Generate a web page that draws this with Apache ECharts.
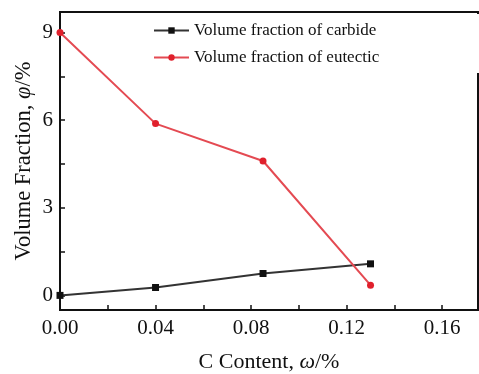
<!DOCTYPE html>
<html><head><meta charset="utf-8">
<script src="https://cdn.jsdelivr.net/npm/echarts@6/dist/echarts.min.js"></script>
<style>html,body{margin:0;padding:0;background:#fff}#c{width:479px;height:374px}</style>
</head><body><div id="c"></div>
<script>
const carbonContent = [0.00, 0.04, 0.085, 0.13];
const carbideFraction = [0.0, 0.27, 0.75, 1.08];
const eutecticFraction = [9.0, 5.88, 4.6, 0.35];
const xTickLabels = [0.00, 0.04, 0.08, 0.12, 0.16];
const xTicks = [0.02, 0.04, 0.06, 0.08, 0.10, 0.12, 0.14, 0.16];
const yTickLabels = [0, 3, 6, 9];
const yTicks = [0, 1.5, 3, 4.5, 6, 7.5, 9];
const seriesNames = ['Volume fraction of carbide', 'Volume fraction of eutectic'];

const F = 'Liberation Serif';
const chart = echarts.init(document.getElementById('c'));
chart.setOption({
  animation: false,
  backgroundColor: '#fff',
  grid: {left: 60, right: 1, top: 12, bottom: 64, containLabel: false, outerBoundsMode: 'none', show: true, borderColor: '#111', borderWidth: 2, backgroundColor: 'transparent'},
  graphic: [{type: 'rect', shape: {x: 146, y: 14, width: 340, height: 59}, style: {fill: '#fff'}, z: 3}],
  legend: {
    left: 153, top: 22, orient: 'vertical', itemWidth: 35, itemHeight: 8, itemGap: 10,
    padding: 0,
    textStyle: {fontFamily: F, fontSize: 17, color: '#111'},
    data: seriesNames, z: 5
  },
  xAxis: {
    type: 'value', min: 0, max: 0.175,
    axisLine: {show: true, onZero: false, lineStyle: {color: '#111', width: 2}},
    axisTick: {show: true, inside: true, length: 5, customValues: xTicks, lineStyle: {color: '#111', width: 1.5}},
    axisLabel: {customValues: xTickLabels, formatter: v => v.toFixed(2), fontFamily: F, fontSize: 21, color: '#111', margin: 8},
    splitLine: {show: false},
    name: '{n|C Content, }{i|ω}{n|/%}', nameLocation: 'middle', nameGap: 41, nameMoveOverlap: false,
    nameTextStyle: {rich: {n: {fontFamily: F, fontSize: 22, color: '#111'}, i: {fontFamily: F, fontSize: 22, fontStyle: 'italic', color: '#111'}}}
  },
  yAxis: {
    type: 'value', min: -0.5, max: 9.7,
    axisLine: {show: true, onZero: false, lineStyle: {color: '#111', width: 2}},
    axisTick: {show: true, inside: true, length: 5, customValues: yTicks, lineStyle: {color: '#111', width: 1.5}},
    axisLabel: {customValues: yTickLabels, fontFamily: F, fontSize: 21, color: '#111', margin: 7},
    splitLine: {show: false},
    name: '{n|Volume Fraction, }{i|φ}{n|/%}', nameLocation: 'middle', nameGap: 24, nameRotate: 90, nameMoveOverlap: false,
    nameTextStyle: {rich: {n: {fontFamily: F, fontSize: 22.5, color: '#111'}, i: {fontFamily: F, fontSize: 22.5, fontStyle: 'italic', color: '#111'}}}
  },
  series: [
    {name: seriesNames[0], type: 'line', data: carbonContent.map((x, i) => [x, carbideFraction[i]]),
     symbol: 'rect', symbolSize: 7, color: '#1a1a1a', lineStyle: {width: 2, color: '#333'}, itemStyle: {color: '#111'}},
    {name: seriesNames[1], type: 'line', data: carbonContent.map((x, i) => [x, eutecticFraction[i]]),
     symbol: 'circle', symbolSize: 7, color: '#e8303a', lineStyle: {width: 2, color: '#e44a52'}, itemStyle: {color: '#e0202c'}}
  ]
});
</script></body></html>
